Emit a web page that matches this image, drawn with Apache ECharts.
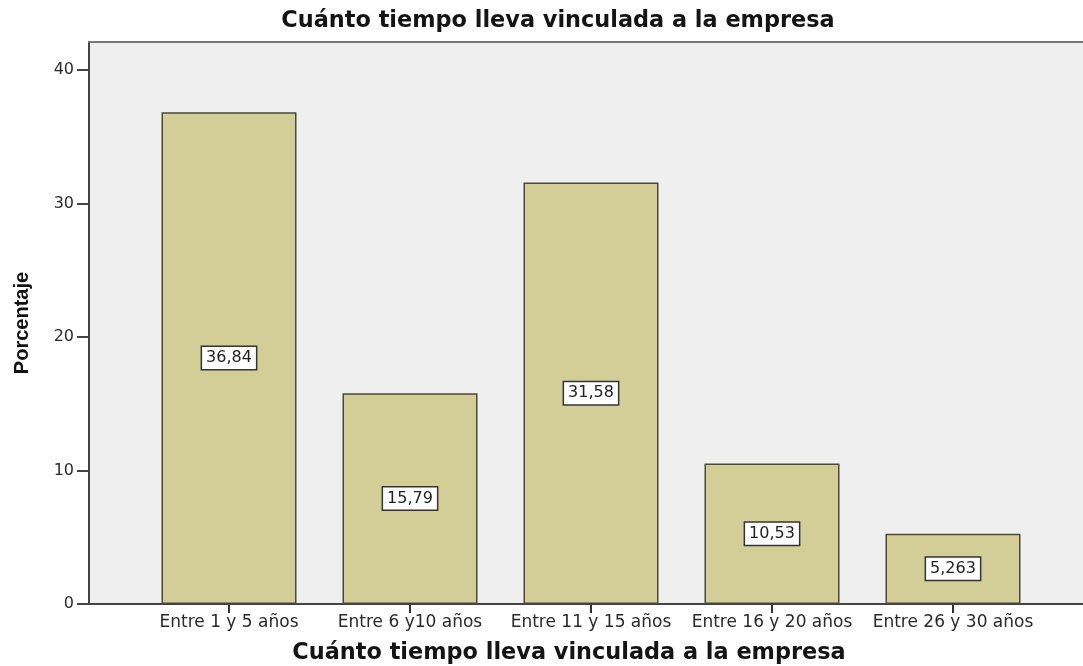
<!DOCTYPE html>
<html>
<head>
<meta charset="utf-8">
<script src="https://cdn.jsdelivr.net/npm/echarts@6/dist/echarts.min.js"></script>
<style>
  html, body { margin: 0; padding: 0; background: #fff; }
  #chart { width: 1083px; height: 666px; }
</style>
</head>
<body>
<div id="chart"></div>
<script>
var categories = ['Entre 1 y 5 años', 'Entre 6 y10 años', 'Entre 11 y 15 años', 'Entre 16 y 20 años', 'Entre 26 y 30 años'];
var porcentajes = [36.84, 15.79, 31.58, 10.53, 5.263];
var valueLabels = ['36,84', '15,79', '31,58', '10,53', '5,263'];
var yTicks = [0, 10, 20, 30, 40];

var chartTitle = 'Cuánto tiempo lleva vinculada a la empresa';
var xAxisTitle = 'Cuánto tiempo lleva vinculada a la empresa';
var yMax = 42.1;

var dom = document.getElementById('chart');
var myChart = echarts.init(dom);

var titleStyle = {
    fontFamily: 'DejaVu Sans',
    fontWeight: 'bold',
    fontSize: 22.4,
    color: '#141414'
};

var option = {
    animation: false,
    backgroundColor: '#ffffff',
    title: [
        { text: chartTitle, left: 553, top: 5, textAlign: 'center', textStyle: titleStyle },
        { text: xAxisTitle, left: 564, top: 637, textAlign: 'center', textStyle: titleStyle }
    ],
    grid: [
        // marco del gráfico (fondo gris y eje Y)
        { left: 89, right: 0, top: 42, bottom: 62, show: true, backgroundColor: '#efefef', borderWidth: 0, outerBoundsMode: 'none', containLabel: false },
        // zona de barras
        { left: 138.5, width: 905, top: 42, bottom: 62, outerBoundsMode: 'none', containLabel: false }
    ],
    xAxis: [
        {
            gridIndex: 0,
            type: 'value',
            min: 0,
            max: 1,
            position: 'top',
            axisLine: { show: true, onZero: false, lineStyle: { color: '#777', width: 2 } },
            axisTick: { show: false },
            axisLabel: { show: false },
            splitLine: { show: false }
        },
        {
            gridIndex: 1,
            type: 'category',
            data: categories,
            axisLine: { show: false },
            axisTick: { show: true, alignWithLabel: true, length: 9, lineStyle: { color: '#333', width: 2 } },
            axisLabel: {
                interval: 0,
                margin: 10,
                fontFamily: 'DejaVu Sans',
                fontSize: 17,
                color: '#2a2a2a'
            }
        }
    ],
    yAxis: [
        {
            gridIndex: 0,
            type: 'value',
            min: 0,
            max: yMax,
            interval: 10,
            axisLine: { show: true, lineStyle: { color: '#444', width: 2 } },
            axisTick: { show: true, length: 12, customValues: yTicks, lineStyle: { color: '#444', width: 2 } },
            axisLabel: {
                margin: 15,
                customValues: yTicks,
                fontFamily: 'DejaVu Sans',
                fontSize: 16,
                color: '#2a2a2a'
            },
            splitLine: { show: false },
            name: 'Porcentaje',
            nameLocation: 'middle',
            nameGap: 57,
            nameTextStyle: {
                fontFamily: 'Liberation Sans',
                fontWeight: 'bold',
                fontSize: 20,
                color: '#111'
            }
        },
        {
            gridIndex: 1,
            type: 'value',
            min: 0,
            max: yMax,
            show: false
        }
    ],
    series: [
        {
            // línea base del eje X a lo ancho del marco
            type: 'line',
            xAxisIndex: 0,
            yAxisIndex: 0,
            data: [[0, 0], [1, 0]],
            symbol: 'none',
            silent: true,
            lineStyle: { color: '#444', width: 2 },
            z: 5
        },
        {
            type: 'bar',
            xAxisIndex: 1,
            yAxisIndex: 1,
            data: porcentajes,
            barWidth: 135,
            itemStyle: {
                color: '#d3ce97',
                borderColor: '#4a4a3a',
                borderWidth: 1.5
            },
            label: {
                show: true,
                position: 'inside',
                formatter: function (p) { return valueLabels[p.dataIndex]; },
                fontFamily: 'DejaVu Sans',
                fontSize: 16,
                color: '#222',
                backgroundColor: '#ffffff',
                borderColor: '#333',
                borderWidth: 1.5,
                padding: [4, 4, 2, 4]
            }
        }
    ]
};
myChart.setOption(option, true);
</script>
</body>
</html>
